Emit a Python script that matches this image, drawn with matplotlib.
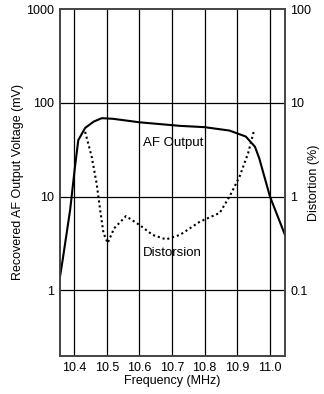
import matplotlib
matplotlib.use("Agg")
import matplotlib.pyplot as plt

plt.rcParams['font.family'] = ['Liberation Sans', 'DejaVu Sans']

# AF output (mV), left axis
af_freq = [10.357, 10.365, 10.388, 10.403, 10.413, 10.434, 10.46, 10.485, 10.52, 10.6,
           10.724, 10.8, 10.876, 10.926, 10.954, 10.967, 11.0, 11.046]
af_mv = [1.4, 2.1, 7.2, 21, 40, 54, 63, 68.6, 67.5, 62,
         56.8, 55, 50.6, 43.7, 34, 25.7, 10, 3.9]

# Distortion (%), right axis
dist_freq = [10.434, 10.454, 10.469, 10.48, 10.49, 10.503, 10.523, 10.559, 10.6, 10.641,
             10.682, 10.713, 10.724, 10.785, 10.846, 10.876, 10.907, 10.933, 10.95]
dist_pct = [4.9, 2.67, 1.39, 0.72, 0.41, 0.32, 0.46, 0.62, 0.50, 0.39,
            0.35, 0.38, 0.39, 0.54, 0.67, 1.0, 1.64, 2.9, 4.9]

x_ticks = [10.4, 10.5, 10.6, 10.7, 10.8, 10.9, 11.0]
x_labels = ["10.4", "10.5", "10.6", "10.7", "10.8", "10.9", "11.0"]
left_ticks = [1, 10, 100, 1000]
left_labels = ["1", "10", "100", "1000"]
right_ticks = [0.1, 1, 10, 100]
right_labels = ["0.1", "1", "10", "100"]

fig = plt.figure(figsize=(3.24, 3.94), dpi=100)
ax = fig.add_axes([60/324, 1-356/394, 225/324, 347/394])
ax.set_yscale('log')
ax.set_xlim(10.357, 11.046)
ax.set_ylim(0.2, 1000)

for xv in x_ticks:
    ax.axvline(xv, color='black', lw=0.9, zorder=1)
for yv in [1, 10, 100]:
    ax.axhline(yv, color='black', lw=0.9, zorder=1)

ax.plot(af_freq, af_mv, color='black', lw=1.5, zorder=3)

ax.set_xticks(x_ticks)
ax.set_xticklabels(x_labels)
ax.set_yticks(left_ticks)
ax.set_yticklabels(left_labels)
ax.minorticks_off()
ax.tick_params(axis='both', length=0, labelsize=9, pad=4)
ax.set_xlabel("Frequency (MHz)", fontsize=9, labelpad=1)
ax.set_ylabel("Recovered AF Output Voltage (mV)", fontsize=9)
ax.yaxis.set_label_coords(-36/225, 0.5)

ax2 = ax.twinx()
ax2.set_yscale('log')
ax2.set_ylim(0.02, 100)
ax2.plot(dist_freq, dist_pct, color='black', lw=1.5, linestyle=(0, (1, 1.4)), zorder=3)
ax2.set_yticks(right_ticks)
ax2.set_yticklabels(right_labels)
ax2.minorticks_off()
ax2.tick_params(axis='y', length=0, labelsize=9, pad=4)
ax2.set_ylabel("Distortion (%)", fontsize=9, rotation=90)
ax2.yaxis.set_label_coords(248/225, 0.5)

for a in (ax, ax2):
    for s in a.spines.values():
        s.set_color('#444444')
        s.set_linewidth(1.2)

ax.text(10.61, 37.7, "AF Output", fontsize=9.5, ha='left', va='center', zorder=4)
ax.text(10.61, 2.52, "Distorsion", fontsize=9.5, ha='left', va='center', zorder=4)

fig.savefig("out.png", dpi=100)
